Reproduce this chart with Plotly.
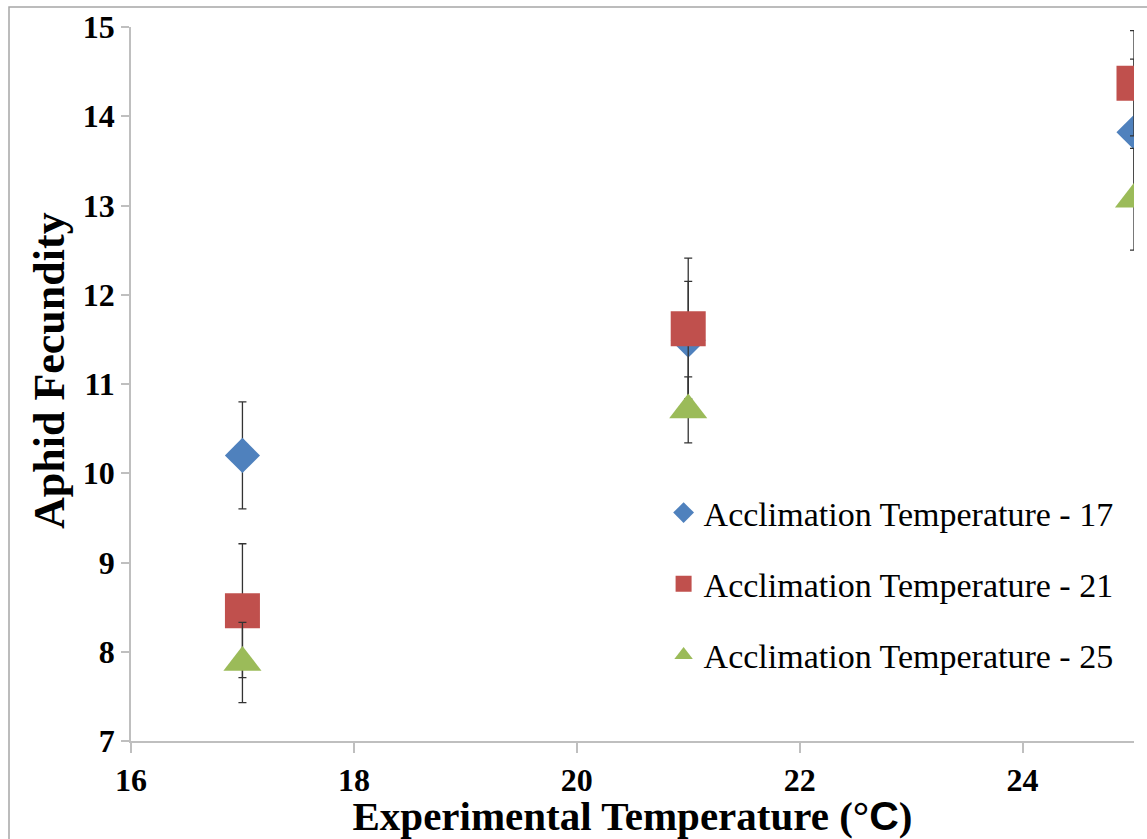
import plotly.graph_objects as go

experimental_temp = [17, 21, 25]
series_names = ["Acclimation Temperature - 17", "Acclimation Temperature - 21", "Acclimation Temperature - 25"]
fecundity_17 = [10.20, 11.49, 13.82]
fecundity_21 = [8.46, 11.62, 14.37]
fecundity_25 = [7.88, 10.71, 13.07]
error_17 = [0.60, 0.66, 0.82]
error_21 = [0.75, 0.79, 0.59]
error_25 = [0.45, 0.37, 0.57]

colors = ["#4F81BD", "#C0504D", "#9BBB59"]
symbols = ["diamond", "square", "triangle-up"]
sizes = [27, 35, 33]

fig = go.Figure()
for i, (name, ys, errs, col, sym, sz) in enumerate(zip(series_names,
                                        [fecundity_17, fecundity_21, fecundity_25],
                                        [error_17, error_21, error_25],
                                        colors, symbols, sizes)):
    fig.add_trace(go.Scatter(
        x=experimental_temp, y=ys, mode="markers", name=name, legendgroup=f"g{i}",
        marker=dict(symbol=sym, size=sz, color=col, line=dict(width=0)),
        error_y=dict(type="data", array=errs, visible=True, color="#333333",
                     thickness=1.3, width=4),
    ))

serif = "Liberation Serif, Times New Roman, serif"
fig.update_layout(
    width=1147, height=839,
    margin=dict(l=131, r=13, t=27, b=98),
    paper_bgcolor="white", plot_bgcolor="white",
    font=dict(family=serif, color="black"),
    showlegend=True,
    legend=dict(x=0.531, y=0.36, xanchor="left", yanchor="top",
                font=dict(family=serif, size=34, color="black"),
                traceorder="grouped", tracegroupgap=24,
                itemsizing="trace", bgcolor="rgba(0,0,0,0)"),
    xaxis=dict(range=[16, 25], dtick=2, tick0=16, showgrid=False, zeroline=False,
               automargin=False,
               showline=True, linecolor="#BFBFBF", linewidth=1.5,
               ticks="outside", ticklen=10, tickcolor="#BFBFBF", tickwidth=1.5,
               tickfont=dict(family=serif, size=32, color="black", weight="bold"),
               title=dict(text="Experimental Temperature (°<span style=\"font-family:'Liberation Sans', Arial\">C</span>)",
                          font=dict(family=serif, size=41, color="black", weight="bold"),
                          standoff=3)),
    yaxis=dict(range=[7, 15], dtick=1, showgrid=False, zeroline=False,
               automargin=False,
               showline=True, linecolor="#BFBFBF", linewidth=1.5,
               ticks="outside", ticklen=8, tickcolor="#BFBFBF", tickwidth=1.5,
               tickfont=dict(family=serif, size=32, color="black", weight="bold")),
    annotations=[dict(text="Aphid Fecundity", textangle=-90, showarrow=False,
                      xref="paper", yref="paper",
                      x=(50 - 131) / 1003, y=(741 - 371) / 714,
                      xanchor="center", yanchor="middle",
                      font=dict(family=serif, size=44, color="black", weight="bold"))],
    shapes=[dict(type="rect", xref="paper", yref="paper",
                 x0=(9 - 131) / 1003, x1=1.1, y0=-0.2, y1=(741 - 7) / 714,
                 line=dict(color="#A6A6A6", width=1.5), fillcolor="rgba(0,0,0,0)",
                 layer="below")],
)

fig.write_html("out.html", config={"displayModeBar": False},
               post_script="document.body.style.margin='0';")
